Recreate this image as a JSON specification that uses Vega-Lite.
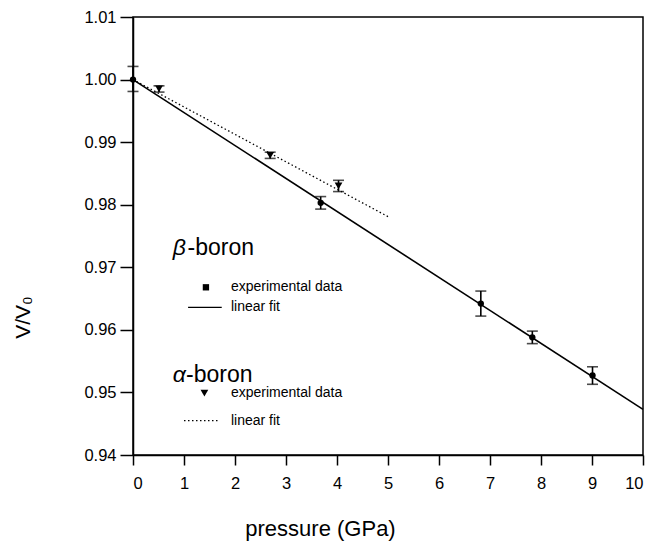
{
  "$schema": "https://vega.github.io/schema/vega-lite/v6.json",
  "autosize": "none",
  "width": 510,
  "height": 438,
  "padding": {"left": 133, "top": 17, "right": 12, "bottom": 88},
  "background": "white",
  "config": {
    "font": "Liberation Sans",
    "view": {"stroke": "black", "strokeWidth": 1.5},
    "axis": {"grid": false, "domainColor": "black", "domainWidth": 1.5, "tickColor": "black", "tickWidth": 1.5, "labelColor": "black", "titleColor": "black", "labelFont": "Liberation Sans", "titleFont": "Liberation Sans", "titleFontWeight": "normal"}
  },
  "datasets": {
    "beta": [
      {"p": 0, "v": 1.0, "lo": 0.9981, "hi": 1.0021},
      {"p": 3.68, "v": 0.9803, "lo": 0.9793, "hi": 0.9813},
      {"p": 6.82, "v": 0.9642, "lo": 0.9622, "hi": 0.9662},
      {"p": 7.83, "v": 0.9588, "lo": 0.9578, "hi": 0.9598},
      {"p": 9.01, "v": 0.9527, "lo": 0.9513, "hi": 0.9541}
    ],
    "alpha": [
      {"p": 0.51, "v": 0.9985, "lo": 0.998, "hi": 0.999},
      {"p": 2.69, "v": 0.9879, "lo": 0.9874, "hi": 0.9884},
      {"p": 4.03, "v": 0.983, "lo": 0.9821, "hi": 0.9839}
    ],
    "betafit": [{"p": 0, "v": 1.0}, {"p": 10, "v": 0.9473}],
    "alphafit": [{"p": 0, "v": 1.0}, {"p": 5, "v": 0.9781}],
    "greek": [{"p": 0.78, "v": 0.972, "t": "β"}, {"p": 0.78, "v": 0.9517, "t": "α"}],
    "boron": [{"p": 1.07, "v": 0.972, "t": "-boron"}, {"p": 1.04, "v": 0.9517, "t": "-boron"}],
    "legtext": [
      {"p": 1.92, "v": 0.9668, "t": "experimental data"},
      {"p": 1.92, "v": 0.9636, "t": "linear fit"},
      {"p": 1.92, "v": 0.9499, "t": "experimental data"},
      {"p": 1.92, "v": 0.9455, "t": "linear fit"}
    ],
    "legsq": [{"p": 1.43, "v": 0.9668}],
    "legtri": [{"p": 1.40, "v": 0.9499}],
    "legsolid": [{"p": 1.08, "p2": 1.74, "v": 0.9636}],
    "legdot": [{"p": 1.0, "p2": 1.69, "v": 0.9455}]
  },
  "layer": [
    {
      "data": {"name": "betafit"},
      "mark": {"type": "line", "color": "black", "strokeWidth": 1.6},
      "encoding": {
        "x": {"field": "p", "type": "quantitative", "scale": {"domain": [0, 10], "nice": false},
          "axis": {"values": [0,1,2,3,4,5,6,7,8,9,10], "labelFontSize": 16.5, "tickSize": 10, "labelPadding": 10, "title": "pressure (GPa)", "titleFontSize": 22, "titleX": 187, "titleY": 80, "titleAlign": "center", "titleBaseline": "alphabetic", "titleAnchor": null}},
        "y": {"field": "v", "type": "quantitative", "scale": {"domain": [0.94, 1.01], "nice": false, "zero": false},
          "axis": {"values": [0.94,0.95,0.96,0.97,0.98,0.99,1.0,1.01], "format": ".2f", "labelFontSize": 16.5, "tickSize": 13, "labelPadding": 4, "title": "V/V₀", "titleFontSize": 21, "titleAngle": 270, "titleX": -110, "titleY": 300, "titleAlign": "center", "titleBaseline": "middle", "titleAnchor": null}}
      }
    },
    {
      "data": {"name": "alphafit"},
      "mark": {"type": "line", "color": "black", "strokeWidth": 1.3, "strokeDash": [1.5, 2.5]},
      "encoding": {"x": {"field": "p", "type": "quantitative"}, "y": {"field": "v", "type": "quantitative"}}
    },
    {
      "data": {"name": "beta"},
      "mark": {"type": "rule", "color": "black", "strokeWidth": 1.6},
      "encoding": {"x": {"field": "p", "type": "quantitative"}, "y": {"field": "lo", "type": "quantitative"}, "y2": {"field": "hi"}}
    },
    {
      "data": {"name": "beta"},
      "mark": {"type": "tick", "orient": "horizontal", "color": "black", "size": 11, "thickness": 1.6},
      "encoding": {"x": {"field": "p", "type": "quantitative"}, "y": {"field": "lo", "type": "quantitative"}}
    },
    {
      "data": {"name": "beta"},
      "mark": {"type": "tick", "orient": "horizontal", "color": "black", "size": 11, "thickness": 1.6},
      "encoding": {"x": {"field": "p", "type": "quantitative"}, "y": {"field": "hi", "type": "quantitative"}}
    },
    {
      "data": {"name": "beta"},
      "mark": {"type": "point", "shape": "circle", "filled": true, "color": "black", "opacity": 1, "size": 40},
      "encoding": {"x": {"field": "p", "type": "quantitative"}, "y": {"field": "v", "type": "quantitative"}}
    },
    {
      "data": {"name": "alpha"},
      "mark": {"type": "rule", "color": "black", "strokeWidth": 1.6},
      "encoding": {"x": {"field": "p", "type": "quantitative"}, "y": {"field": "lo", "type": "quantitative"}, "y2": {"field": "hi"}}
    },
    {
      "data": {"name": "alpha"},
      "mark": {"type": "tick", "orient": "horizontal", "color": "black", "size": 11, "thickness": 1.6},
      "encoding": {"x": {"field": "p", "type": "quantitative"}, "y": {"field": "lo", "type": "quantitative"}}
    },
    {
      "data": {"name": "alpha"},
      "mark": {"type": "tick", "orient": "horizontal", "color": "black", "size": 11, "thickness": 1.6},
      "encoding": {"x": {"field": "p", "type": "quantitative"}, "y": {"field": "hi", "type": "quantitative"}}
    },
    {
      "data": {"name": "alpha"},
      "mark": {"type": "point", "shape": "triangle-down", "filled": true, "color": "black", "opacity": 1, "size": 60},
      "encoding": {"x": {"field": "p", "type": "quantitative"}, "y": {"field": "v", "type": "quantitative"}}
    },
    {
      "data": {"name": "greek"},
      "mark": {"type": "text", "fontSize": 23, "fontStyle": "italic", "align": "left", "baseline": "alphabetic", "color": "black"},
      "encoding": {"x": {"field": "p", "type": "quantitative"}, "y": {"field": "v", "type": "quantitative"}, "text": {"field": "t"}}
    },
    {
      "data": {"name": "boron"},
      "mark": {"type": "text", "fontSize": 23, "align": "left", "baseline": "alphabetic", "color": "black"},
      "encoding": {"x": {"field": "p", "type": "quantitative"}, "y": {"field": "v", "type": "quantitative"}, "text": {"field": "t"}}
    },
    {
      "data": {"name": "legtext"},
      "mark": {"type": "text", "fontSize": 14, "align": "left", "baseline": "middle", "color": "black"},
      "encoding": {"x": {"field": "p", "type": "quantitative"}, "y": {"field": "v", "type": "quantitative"}, "text": {"field": "t"}}
    },
    {
      "data": {"name": "legsq"},
      "mark": {"type": "point", "shape": "square", "filled": true, "color": "black", "opacity": 1, "size": 40},
      "encoding": {"x": {"field": "p", "type": "quantitative"}, "y": {"field": "v", "type": "quantitative"}}
    },
    {
      "data": {"name": "legtri"},
      "mark": {"type": "point", "shape": "triangle-down", "filled": true, "color": "black", "opacity": 1, "size": 60},
      "encoding": {"x": {"field": "p", "type": "quantitative"}, "y": {"field": "v", "type": "quantitative"}}
    },
    {
      "data": {"name": "legsolid"},
      "mark": {"type": "rule", "color": "black", "strokeWidth": 1.4},
      "encoding": {"x": {"field": "p", "type": "quantitative"}, "x2": {"field": "p2"}, "y": {"field": "v", "type": "quantitative"}}
    },
    {
      "data": {"name": "legdot"},
      "mark": {"type": "rule", "color": "black", "strokeWidth": 1.2, "strokeDash": [1.5, 2.5]},
      "encoding": {"x": {"field": "p", "type": "quantitative"}, "x2": {"field": "p2"}, "y": {"field": "v", "type": "quantitative"}}
    }
  ]
}
